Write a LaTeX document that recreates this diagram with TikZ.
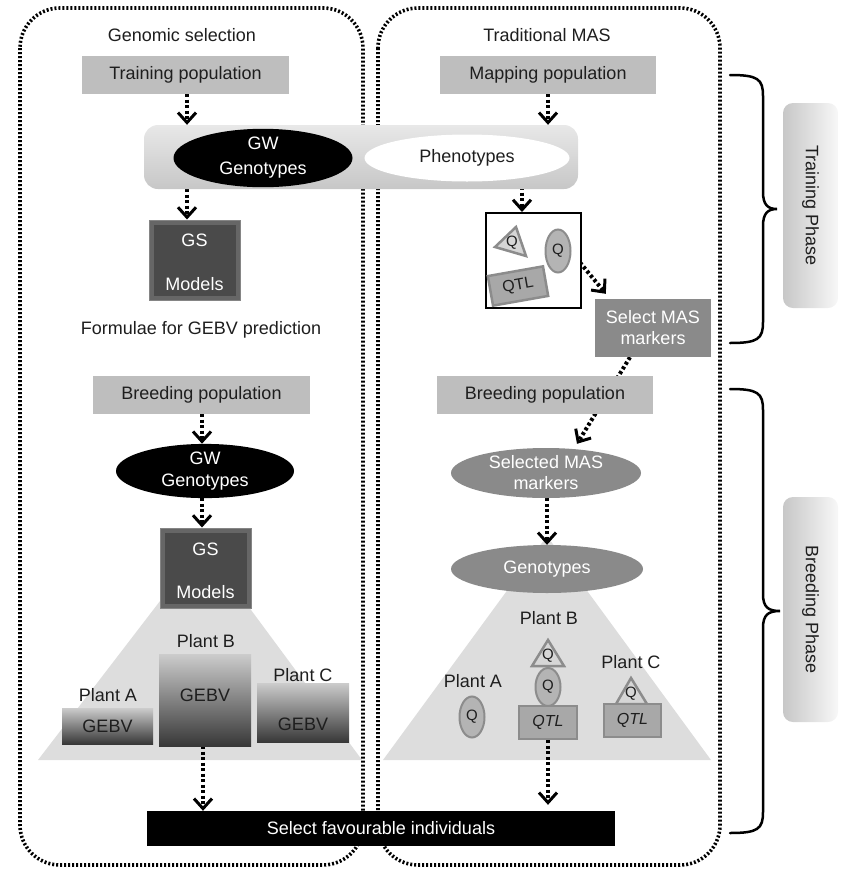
\documentclass[tikz,border=0pt]{standalone}
\usepackage{fontspec}
\setmainfont{Liberation Sans}
\usetikzlibrary{arrows.meta,shapes.geometric,calc}
\definecolor{txt}{HTML}{1E1E1E}
\definecolor{popgray}{HTML}{BEBEBE}
\definecolor{trigray}{HTML}{DDDDDD}
\definecolor{midgray}{HTML}{8A8A8A}
\definecolor{gsdark}{HTML}{4A4A4A}
\definecolor{gsedge}{HTML}{666666}
\definecolor{qfill}{HTML}{B4B4B4}
\definecolor{qedge}{HTML}{8C8C8C}
\definecolor{qtlfill}{HTML}{A8A8A8}
\definecolor{trifill}{HTML}{D6D6D6}
\pgfdeclarelayer{back}
\pgfsetlayers{back,main}
\begin{document}
\begin{tikzpicture}[x=1pt,y=-1pt,font=\fontsize{18}{22}\selectfont,text=txt,
  dotbox/.style={line width=3.6pt,dash pattern=on 2pt off 2pt,rounded corners=40pt},
  arr/.style={line width=4pt,dash pattern=on 3pt off 2.5pt,
    -{Straight Barb[length=10pt,width=18pt,line width=3pt]}},
  popbox/.style={fill=popgray,minimum height=38pt,inner sep=0pt},
  ell/.style={ellipse,inner sep=0pt,align=center},
  gsbox/.style={fill=gsedge,draw=gsedge!80!white,line width=1pt,minimum width=91pt,minimum height=80pt,inner sep=0pt},
  gebv/.style={top color=black!20,bottom color=black!78,inner sep=0pt},
  qell/.style={ellipse,fill=qfill,draw=qedge,line width=2pt,minimum width=25pt,inner sep=0pt,font=\fontsize{15}{15}\selectfont},
  qtl/.style={fill=qtlfill,draw=qedge,line width=2.5pt,inner sep=0pt,font=\fontsize{16}{16}\selectfont\itshape},
  qtri/.style={fill=trifill,draw=qedge,line width=2.5pt,line join=miter},
  qlab/.style={font=\fontsize{15}{15}\selectfont,inner sep=0pt},
  phase/.style={rounded corners=10pt,left color=black!22,right color=black!3,minimum width=55pt,inner sep=0pt},
  bracepath/.style={line width=2.5pt,line cap=round}
]
\useasboundingbox (0,0) rectangle (841,871);

% ---------- nodes ----------
\node (title1) at (182,35) {Genomic selection};
\node (title2) at (547,35) {Traditional MAS};
\node[popbox,minimum width=207pt] (trainpop) at (185.5,75) {Training population};
\node[popbox,minimum width=216pt] (mappop) at (548,75) {Mapping population};

\node[rounded corners=14pt,top color=black!9,bottom color=black!22,minimum width=434pt,minimum height=64pt,inner sep=0pt] (bar) at (361,157) {};
\node[ell,fill=black,text=white,minimum width=179pt,minimum height=57pt,font=\fontsize{18}{25}\selectfont] (gw1) at (263,158) {GW\\Genotypes};
\node[ell,fill=white,minimum width=205pt,minimum height=47pt] (phen) at (467,158) {Phenotypes};

\node[gsbox] (gs1) at (194.5,260) {};
\fill[gsdark] ($(gs1.north west)+(5,5)$) rectangle ($(gs1.south east)+(-5,-5)$);
\node[text=white] (gs1a) at (194.5,240) {GS};
\node[text=white] (gs1b) at (194.5,284) {Models};

\node (formula) at (201,330) {Formulae for GEBV prediction};

\node[popbox,minimum width=217pt] (breedL) at (201.5,395) {Breeding population};
\node[ell,fill=black,text=white,minimum width=178pt,minimum height=48pt] (gw2) at (205,471) {GW\\Genotypes};

% triangles
\begin{pgfonlayer}{back}
\fill[trigray] (203,545) -- (38,760) -- (362,760) -- cycle;
\fill[trigray] (547,536) -- (383,760) -- (711,760) -- cycle;
\end{pgfonlayer}

\node[gsbox] (gs2) at (205.5,568) {};
\fill[gsdark] ($(gs2.north west)+(5,5)$) rectangle ($(gs2.south east)+(-5,-5)$);
\node[text=white] (gs2a) at (205.5,549) {GS};
\node[text=white] (gs2b) at (205.5,592) {Models};

\node (plA) at (108,695) {Plant A};
\node[gebv,minimum width=91pt,minimum height=36pt] (gebvA) at (107.5,726) {GEBV};
\node (plB) at (206,641) {Plant B};
\node[gebv,minimum width=92pt,minimum height=92pt] (gebvB) at (205,700) {};
\node (gebvBt) at (205,695) {GEBV};
\node (plC) at (303,675) {Plant C};
\node[gebv,minimum width=92pt,minimum height=59pt] (gebvC) at (303,712.5) {};
\node (gebvCt) at (303,724) {GEBV};

% right column
\node[draw=black,line width=2pt,fill=white,minimum width=95pt,minimum height=95pt,inner sep=0pt] (qbox) at (533.5,260.5) {};
\draw[qtri] (495,247) -- (516,227) -- (526,256) -- cycle;
\node[qlab] (q1) at (512,243) {Q};
\node[qell,minimum height=43pt] (q2) at (558,251) {Q};
\node[qtl,rotate=10,minimum width=56pt,minimum height=30pt,font=\fontsize{16}{16}\selectfont] (qtl1) at (518,286) {QTL};

\node[fill=midgray,text=white,minimum width=116pt,minimum height=58pt,inner sep=0pt,align=center,font=\fontsize{18}{21}\selectfont] (selmas) at (653,328) {Select MAS\\markers};
\node[popbox,minimum width=216pt] (breedR) at (545,395) {Breeding population};
\node[ell,fill=midgray,text=white,minimum width=190pt,minimum height=50pt,font=\fontsize{18}{21}\selectfont] (selmk) at (546,473) {Selected MAS\\markers};
\node[ell,fill=midgray,text=white,minimum width=192pt,minimum height=48pt] (geno) at (547,569) {Genotypes};

\node (prB) at (549,618) {Plant B};
\draw[qtri] (548,640) -- (532,666) -- (564,666) -- cycle;
\node[qlab] (qB1) at (548,656) {Q};
\node[qell,minimum height=38pt] (qB2) at (548,687) {Q};
\node[qtl,minimum width=58pt,minimum height=33pt] (qtlB) at (548,722.5) {QTL};
\node (prA) at (473,681) {Plant A};
\node[qell,minimum height=41pt] (qA) at (472,717) {Q};
\node (prC) at (631,662) {Plant C};
\draw[qtri] (631,678) -- (616,704) -- (647,704) -- cycle;
\node[qlab] (qC1) at (631,694) {Q};
\node[qtl,minimum width=57pt,minimum height=33pt] (qtlC) at (632.5,720.5) {QTL};

\node[fill=black,text=white,minimum width=468pt,minimum height=35pt,inner sep=0pt] (sel) at (381,828.5) {Select favourable individuals};

% phase labels
\node[phase,minimum height=205pt] (tphase) at (810.5,205.5) {};
\node[rotate=-90] (tphaset) at (tphase.center) {Training Phase};
\node[phase,minimum height=225pt] (bphase) at (810.5,609.5) {};
\node[rotate=-90] (bphaset) at (bphase.center) {Breeding Phase};

% ---------- background: boxes and arrows ----------
\begin{pgfonlayer}{back}
\draw[dotbox] (20,8) rectangle (363,865);
\draw[dotbox] (378,8) rectangle (720,865);
\draw[arr] (trainpop.south -| 187,0) -- (bar.north -| 187,0);
\draw[arr] (bar.south -| 187,0) -- (gs1.north -| 187,0);
\draw[arr] (breedL.south -| 202,0) -- (gw2.north -| 202,0);
\draw[arr] (gw2.south -| 202,0) -- (gs2.north -| 202,0);
\draw[arr] (gebvB.south -| 203,0) -- (sel.north -| 203,0);
\draw[arr] (mappop.south) -- (bar.north -| mappop.south);
\draw[arr] (phen.south -| 522,0) -- (qbox.north -| 522,0);
\draw[arr] ($(qbox.east)+(-2,2)$) -- ($(selmas.north west)+(11,-5)$);
\draw[arr] ($(selmas.south)+(-23,0)$) -- ($(selmk.north)+(31,-4)$);
\draw[arr] (geno.south |- selmk.south) -- (geno.north);
\draw[arr] (qtlB.south) -- ($(sel.north -| qtlB.south)+(0,-6)$);
\end{pgfonlayer}

% braces
\coordinate (tb1) at (730,75);
\coordinate (tb2) at (730,343);
\draw[bracepath] (tb1) .. controls (758,75) and (763,79) .. (763,96) -- (763,192)
  .. controls (763,205) and (768,209) .. (777,209)
  .. controls (768,209) and (763,213) .. (763,226) -- (763,322)
  .. controls (763,339) and (758,343) .. (tb2);
\coordinate (bb1) at (730,389);
\coordinate (bb2) at (730,833);
\draw[bracepath] (bb1) .. controls (758,389) and (763,393) .. (763,410) -- (763,594)
  .. controls (763,607) and (768,611) .. (780,611)
  .. controls (768,611) and (763,615) .. (763,628) -- (763,812)
  .. controls (763,829) and (758,833) .. (bb2);
\end{tikzpicture}
\end{document}
